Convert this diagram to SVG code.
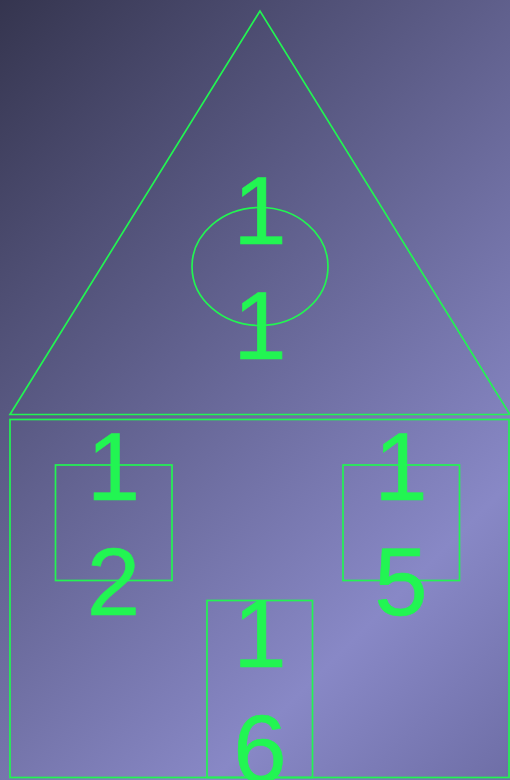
<svg xmlns="http://www.w3.org/2000/svg" width="510" height="780" viewBox="0 0 510 780">
<defs>
<linearGradient id="bg" gradientUnits="userSpaceOnUse" x1="0" y1="0" x2="645" y2="645">
<stop offset="0" stop-color="#35354f"/>
<stop offset="0.77" stop-color="#8888c6"/>
<stop offset="1" stop-color="#6e6ea6"/>
</linearGradient>
<style>
.s{fill:none;stroke:#22f552;stroke-width:1.7}
.t{fill:#22f552;stroke:#22f552;stroke-width:0.6;font-family:"Liberation Sans",Arial,sans-serif;font-size:96px;text-anchor:middle}
</style>
</defs>
<rect x="0" y="0" width="510" height="780" fill="url(#bg)"/>
<g id="roof">
<polygon class="s" points="260,11 10,414.5 510,414.5"/>
</g>
<g id="attic-window">
<ellipse class="s" cx="260" cy="266.5" rx="68" ry="59"/>
<text class="t" x="260" y="244">1</text>
<text class="t" x="260" y="359">1</text>
</g>
<g id="house">
<rect class="s" x="10" y="419.5" width="499" height="358"/>
</g>
<g id="window-left">
<rect class="s" x="55.5" y="465" width="116.5" height="115.5"/>
<text class="t" x="113.5" y="500">1</text>
<text class="t" x="113.5" y="615">2</text>
</g>
<g id="window-right">
<rect class="s" x="343" y="465" width="116.5" height="115.5"/>
<text class="t" x="401" y="500">1</text>
<text class="t" x="401" y="615">5</text>
</g>
<g id="door">
<rect class="s" x="207" y="600.5" width="105.5" height="177"/>
<text class="t" x="260" y="667">1</text>
<text class="t" x="260" y="782">6</text>
</g>
<g id="connectors"/>
</svg>
